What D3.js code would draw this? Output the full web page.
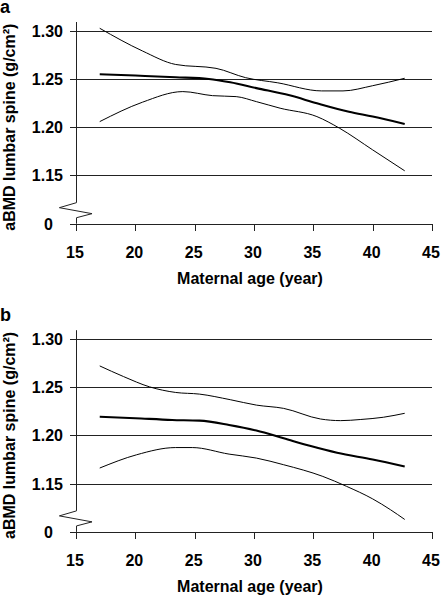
<!DOCTYPE html>
<html><head><meta charset="utf-8">
<script src="https://cdn.jsdelivr.net/npm/d3@7/dist/d3.min.js"></script>
<style>
html,body{margin:0;padding:0;background:#fff;}
svg text{font-family:"Liberation Sans",Arial,sans-serif;font-weight:bold;fill:#000;}
</style></head>
<body><svg id="c" width="441" height="596"></svg>
<script>
// ---- data ----
const panelLabels = ["a", "b"];
const xTicks = [15, 20, 25, 30, 35, 40, 45];
const yTicks = [1.10, 1.15, 1.20, 1.25, 1.30];
const yTickLabels = ["0", "1.15", "1.20", "1.25", "1.30"];
const xTitle = "Maternal age (year)";
const yTitle = "aBMD lumbar spine (g/cm\u00B2)";

// panel a
const aUpperAge = [17, 20.6, 23.4, 26.8, 29.3, 32, 35.7, 37.5, 40, 42.7];
const aUpperVal = [1.3025, 1.279, 1.265, 1.261, 1.2513, 1.246, 1.2376, 1.2376, 1.243, 1.2507];
const aMeanAge = [17, 20, 23.4, 26.2, 28, 30.2, 33, 35.3, 38, 40, 42.7];
const aMeanVal = [1.2549, 1.2535, 1.2518, 1.250, 1.2465, 1.2405, 1.233, 1.2248, 1.216, 1.211, 1.2034];
const aLowerAge = [17, 20.6, 24, 26.5, 28.5, 30.2, 32.2, 35.3, 37.2, 40, 42.7];
const aLowerVal = [1.2058, 1.2259, 1.2369, 1.2327, 1.2317, 1.2265, 1.2197, 1.211, 1.199, 1.1765, 1.1548];

// panel b
const bUpperAge = [17, 19, 21.2, 23.4, 25.4, 28, 30.2, 32.5, 35.6, 37.3, 39, 40.9, 42.7];
const bUpperVal = [1.272, 1.261, 1.2503, 1.2445, 1.2428, 1.237, 1.2314, 1.228, 1.217, 1.2153, 1.2165, 1.2188, 1.2229];
const bMeanAge = [17, 20, 23.1, 25.4, 27.9, 30.2, 32.5, 34.7, 37, 40, 42.7];
const bMeanVal = [1.2194, 1.2178, 1.216, 1.2153, 1.2108, 1.205, 1.197, 1.1892, 1.182, 1.175, 1.1678];
const bLowerAge = [17, 20.1, 23.4, 24.8, 27.9, 30.2, 32.5, 35.8, 37.8, 40, 41.5, 42.7];
const bLowerVal = [1.1662, 1.1799, 1.1874, 1.1874, 1.1806, 1.1765, 1.1696, 1.1575, 1.1472, 1.1342, 1.123, 1.1129];

// axis break zig-zag (in axis units)
const breakAge = [15, 13.6, 16.35, 15];
const breakVal = [1.1218, 1.1166, 1.1104, 1.1062];

const panels = [
  {label: panelLabels[0], upper: [aUpperAge, aUpperVal], mean: [aMeanAge, aMeanVal], lower: [aLowerAge, aLowerVal], top: 30.7},
  {label: panelLabels[1], upper: [bUpperAge, bUpperVal], mean: [bMeanAge, bMeanVal], lower: [bLowerAge, bLowerVal], top: 338.9}
];

const svg = d3.select("#c");
const x = d3.scaleLinear().domain([15, 45]).range([76, 432]);
const zip = (a, v) => a.map((d, i) => [d, v[i]]);

panels.forEach((p, pi) => {
  const y = d3.scaleLinear().domain([1.10, 1.30]).range([p.top + 193, p.top]);
  const g = svg.append("g");

  // gridlines
  g.selectAll("line.grid").data(yTicks).join("line")
    .attr("x1", 70).attr("x2", x(45))
    .attr("y1", d => Math.round(y(d)) + 0.5).attr("y2", d => Math.round(y(d)) + 0.5)
    .attr("stroke", "#222").attr("stroke-width", 1);

  // x ticks
  g.selectAll("line.xt").data(xTicks).join("line")
    .attr("x1", d => Math.round(x(d)) + 0.5).attr("x2", d => Math.round(x(d)) + 0.5)
    .attr("y1", Math.round(y(1.10))).attr("y2", Math.round(y(1.10)) + 7)
    .attr("stroke", "#222").attr("stroke-width", 1);

  // y axis with break
  const ax = Math.round(x(15)) + 0.5;
  g.append("line")
    .attr("x1", ax).attr("x2", ax)
    .attr("y1", y(1.309)).attr("y2", y(breakVal[0]))
    .attr("stroke", "#222").attr("stroke-width", 1);
  g.append("line")
    .attr("x1", ax).attr("x2", ax)
    .attr("y1", y(breakVal[3])).attr("y2", y(1.10))
    .attr("stroke", "#222").attr("stroke-width", 1);
  g.append("path")
    .attr("d", d3.line().x(d => d[0] === 15 ? ax : x(d[0])).y(d => y(d[1]))(zip(breakAge, breakVal)))
    .attr("fill", "none").attr("stroke", "#222").attr("stroke-width", 1);

  // y tick labels
  g.selectAll("text.yl").data(yTicks).join("text")
    .attr("x", (d, i) => i === 0 ? 53 : 63)
    .attr("y", d => y(d) + 6)
    .attr("text-anchor", "end")
    .attr("font-size", 16)
    .text((d, i) => yTickLabels[i]);

  // x tick labels
  g.selectAll("text.xl").data(xTicks).join("text")
    .attr("x", d => x(d) - 1)
    .attr("y", y(1.10) + 34)
    .attr("text-anchor", "middle")
    .attr("font-size", 16)
    .text(d => d);

  // x title
  g.append("text")
    .attr("x", 250).attr("y", y(1.10) + 60.5)
    .attr("text-anchor", "middle").attr("font-size", 16)
    .text(xTitle);

  // y title
  g.append("text")
    .attr("transform", `translate(15,${y(1.20)}) rotate(-90)`)
    .attr("text-anchor", "middle").attr("font-size", 16)
    .text(yTitle);

  // panel label
  g.append("text")
    .attr("x", 0).attr("y", p.top - 17.5)
    .attr("font-size", 18)
    .text(p.label);

  const line = d3.line().x(d => x(d[0])).y(d => y(d[1])).curve(d3.curveMonotoneX);
  [["upper", 1], ["lower", 1], ["mean", 2.1]].forEach(([k, w]) => {
    g.append("path")
      .attr("d", line(zip(p[k][0], p[k][1])))
      .attr("fill", "none").attr("stroke", "#000").attr("stroke-width", w);
  });
});
</script></body></html>
